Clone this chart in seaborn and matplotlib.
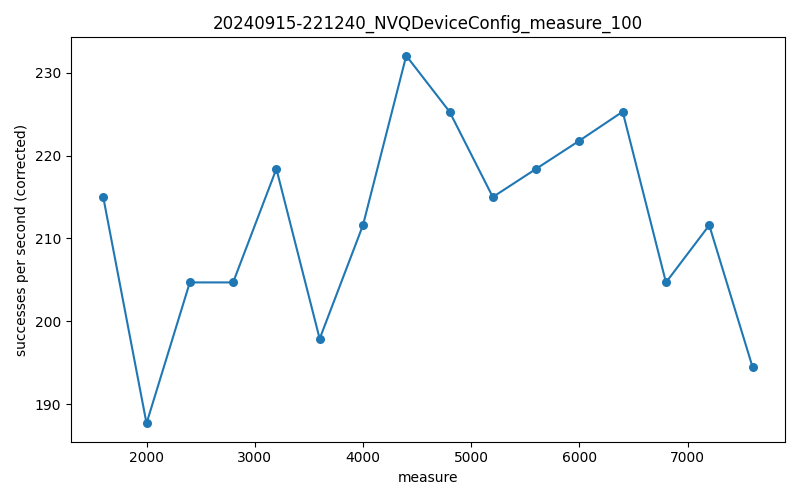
import matplotlib
matplotlib.use("Agg")
import matplotlib.pyplot as plt
import seaborn as sns
import pandas as pd

measure = [1600, 2000, 2400, 2800, 3200, 3600, 4000, 4400, 4800, 5200, 5600, 6000, 6400, 6800, 7200, 7600]
rate = [215.0, 187.7, 204.7, 204.7, 218.4, 197.9, 211.6, 232.05, 225.3, 215.0, 218.4, 221.8, 225.3, 204.7, 211.6, 194.5]

df = pd.DataFrame({"measure": measure, "rate": rate})
fig, ax = plt.subplots(figsize=(8, 5), dpi=100)
sns.lineplot(data=df, x="measure", y="rate", marker="o", markersize=6.5, markeredgewidth=0, color="#1f77b4", ax=ax)
ax.set_xlabel("measure")
ax.set_ylabel("successes per second (corrected)")
ax.set_title("20240915-221240_NVQDeviceConfig_measure_100")
fig.tight_layout()
fig.savefig("out.png")
